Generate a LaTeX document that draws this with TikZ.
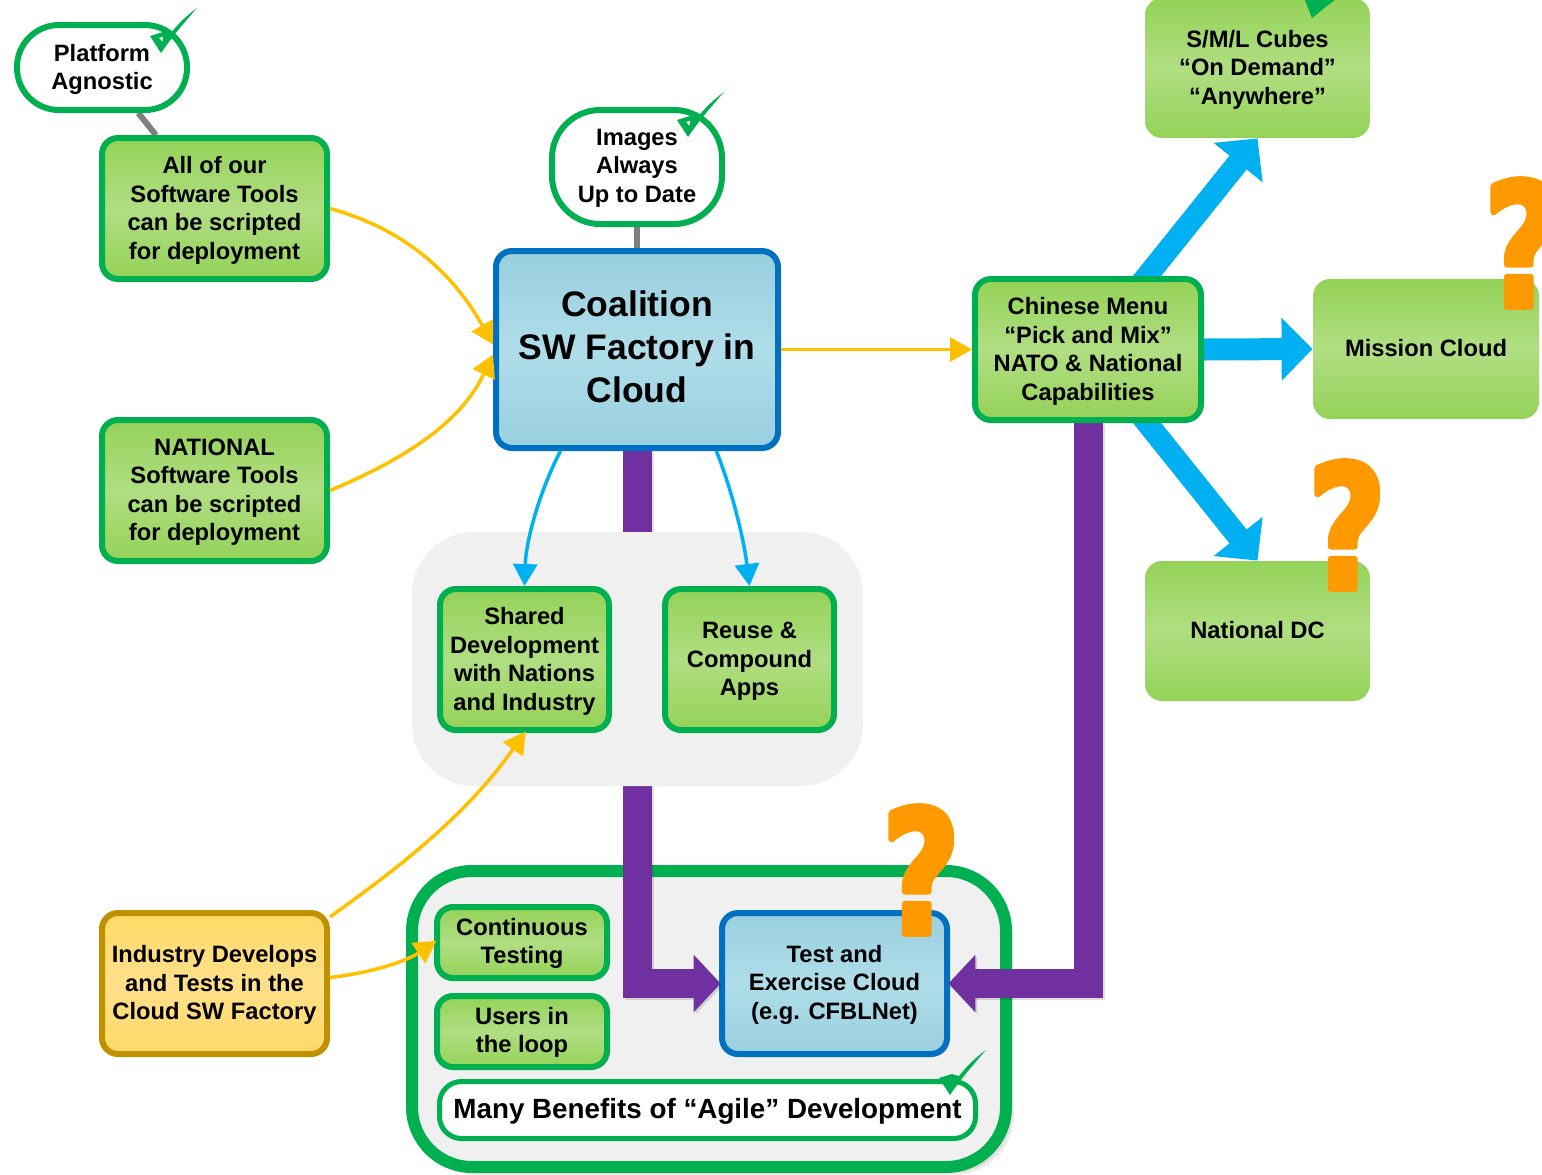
\documentclass[tikz,border=0pt]{standalone}
\usepackage{fontspec}
\setmainfont{Liberation Sans}
\newfontfamily\qfont[BoldFeatures={FakeBold=3.5,FakeStretch=0.78}]{DejaVu Sans}
\usetikzlibrary{arrows.meta,shadows,backgrounds}
\pgfdeclarelayer{bgA}\pgfdeclarelayer{bgB}\pgfdeclarelayer{bgC}\pgfdeclarelayer{fg}
\pgfsetlayers{bgA,bgB,bgC,main,fg}
\definecolor{gbord}{HTML}{00B050}
\definecolor{gtop}{HTML}{94D258}
\definecolor{gmid}{HTML}{B0DE82}
\definecolor{bbord}{HTML}{0070C0}
\definecolor{btop}{HTML}{99CFDF}
\definecolor{bmid}{HTML}{AFDDE9}
\definecolor{ybord}{HTML}{BF9000}
\definecolor{ytop}{HTML}{FFD966}
\definecolor{ymid}{HTML}{FFE08A}
\definecolor{purp}{HTML}{7030A0}
\definecolor{sky}{HTML}{00B0F0}
\definecolor{amber}{HTML}{FFC000}
\definecolor{quest}{HTML}{FF9900}
\definecolor{panelgray}{HTML}{F0F0F0}
\tikzset{
  x=0.5pt,y=-0.5pt,
  size/.style 2 args={minimum width={(#1-6)*0.5pt},minimum height={(#2-6)*0.5pt}},
  base/.style={rectangle,inner sep=0pt,align=center,text=black,text depth=0.7pt,font=\fontsize{11.85}{14.25}\selectfont\bfseries},
  greenbox/.style={base,draw=gbord,line width=3pt,rounded corners=8pt,top color=gtop,bottom color=gtop,middle color=gmid},
  plainbox/.style={base,rounded corners=8.5pt,top color=gtop,bottom color=gtop,middle color=gmid},
  bluebox/.style={base,draw=bbord,line width=3pt,rounded corners=8pt,top color=btop,bottom color=btop,middle color=bmid},
  yellowbox/.style={base,draw=ybord,line width=3pt,rounded corners=8pt,top color=ytop,bottom color=ytop,middle color=ymid},
  bubble/.style={base,draw=gbord,line width=3pt,fill=white,rounded corners=21pt},
  thinlink/.style={line width=1.75pt,-{Triangle[length=11pt,width=12pt]}},
  yellowlink/.style={thinlink,draw=amber},
  bluelink/.style={thinlink,draw=sky},
  greylink/.style={draw=black!50,line width=3pt},
  fatblue/.style={draw=sky,line width=11pt,-{Triangle[length=15.5pt,width=30.5pt]}},
  fatpurple/.style={draw=purp,line width=14.5pt,shorten >=-0.8pt,-{Triangle[length=13.5pt,width=28pt]}},
  purpshadow/.style={draw=black,opacity=.13,line width=14.5pt,shorten >=-0.8pt,-{Triangle[length=13.5pt,width=28pt]},transform canvas={xshift=1pt,yshift=-1pt}},
  qmark/.style={inner sep=0pt,text=quest,font=\fontsize{86}{86}\selectfont\qfont\bfseries},
  tick/.style={fill=gbord,draw=none,even odd rule},
}
\newcommand{\tickmark}[1]{\fill[tick,shift={(#1)}] (-11,-17) -- (2,-21) -- (9,-19) .. controls (16,-28) and (25,-37) .. (36,-45) .. controls (22,-29) and (10,-15) .. (0,0) -- cycle (-2,-15) -- (2,-16.5) -- (1.5,-11) -- cycle;}
\newcommand{\roundq}{\special{pdf:code 1 j 1 J}?}
\begin{document}
\begin{tikzpicture}
\useasboundingbox (0,0) rectangle (1542,1174);
% big container and test cloud
\begin{pgfonlayer}{bgA}
\node[base,draw=gbord,line width=6pt,fill=panelgray,rounded corners=30pt,minimum width=297pt,minimum height=148pt,
  copy shadow={draw=none,fill=black,opacity=.07,shadow xshift=1pt,shadow yshift=-1pt},
  copy shadow={draw=none,fill=black,opacity=.07,shadow xshift=2pt,shadow yshift=-2pt},
  copy shadow={draw=none,fill=black,opacity=.07,shadow xshift=3pt,shadow yshift=-3pt},
  copy shadow={draw=none,fill=black,opacity=.07,shadow xshift=4pt,shadow yshift=-4pt}] (frame) at (709,1019) {};
\node[bluebox,size={231}{147},text depth=1.5pt] (test) at (834.5,983.5) {Test and\\Exercise Cloud\\(e.g. CFBLNet)};
\end{pgfonlayer}
\begin{pgfonlayer}{bgC}
\node[rectangle,fill=black!6,rounded corners=31pt,minimum width=225.5pt,minimum height=127pt,inner sep=0pt] (panel) at (637.5,659) {};
\end{pgfonlayer}
% boxes
\node[bubble,size={176}{91}] (plat) at (102,67.5) {Platform\\Agnostic};
\node[greenbox,size={231}{147}] (all) at (214.5,208.5) {All of our\\Software Tools\\can be scripted\\for deployment};
\node[greenbox,size={231}{147}] (natl) at (214.5,490.5) {NATIONAL\\Software Tools\\can be scripted\\for deployment};
\node[bubble,size={176}{120},rounded corners=24pt,text depth=1.2pt] (img) at (637,167) {Images\\Always\\Up to Date};
\node[bluebox,size={288}{203},font=\fontsize{17.75}{21.5}\selectfont\bfseries,text depth=3pt] (coal) at (637,349.5) {Coalition\\SW Factory in\\Cloud};
\node[greenbox,size={232}{147}] (chin) at (1088,349.5) {Chinese Menu\\“Pick and Mix”\\NATO \& National\\Capabilities};
\node[plainbox,minimum width=112.5pt,minimum height=70pt] (sml) at (1257.5,68) {S/M/L Cubes\\“On Demand”\\“Anywhere”};
\node[plainbox,minimum width=113pt,minimum height=70pt,text depth=1pt] (miss) at (1426,349) {Mission Cloud};
\node[plainbox,minimum width=112.5pt,minimum height=70pt,text depth=1pt] (ndc) at (1257.5,631) {National DC};
\node[greenbox,size={175}{147}] (shared) at (524.5,659.5) {Shared\\Development\\with Nations\\and Industry};
\node[greenbox,size={175}{147}] (reuse) at (749.5,659.5) {Reuse \&\\Compound\\Apps};
\node[yellowbox,size={231}{147}] (ind) at (214.5,983.5) {Industry Develops\\and Tests in the\\Cloud SW Factory};
\node[greenbox,size={176}{77},text depth=1.5pt] (cont) at (522,942.5) {Continuous\\Testing};
\node[greenbox,size={176}{77},text depth=1.5pt] (users) at (522,1031.5) {Users in\\the loop};
\node[bubble,line width=2.5pt,minimum width=268pt,minimum height=28.5pt,rounded corners=11pt,font=\fontsize{13.9}{16.5}\selectfont\bfseries,text depth=2pt] (agile) at (707.5,1110) {Many Benefits of “Agile” Development};
% connectors beneath the boxes
\begin{pgfonlayer}{bgB}
\draw[greylink] (plat) -- (all);
\draw[greylink] (img) -- (coal);
\draw[fatblue] (chin.center) -- (sml.south);
\draw[fatblue] (chin.east) -- (miss.west);
\draw[fatblue] (chin.center) -- (ndc.north);
\draw[purpshadow] (coal.south) |- (test.west);
\draw[purpshadow] (chin.south) |- (test.east);
\draw[fatpurple] (coal.south) |- (test.west);
\draw[fatpurple] (chin.south) |- (test.east);
\end{pgfonlayer}
% connectors above the boxes
\begin{pgfonlayer}{fg}
\draw[yellowlink] (all.east) .. controls (400,228) and (450,268) .. (coal.178);
\draw[yellowlink] (natl.east) .. controls (410,457) and (462,420) .. (coal.182);
\draw[yellowlink] (coal.east |- chin.west) -- (chin.west);
\draw[yellowlink,shorten >=-1pt] (ind.30) .. controls (410,860) and (470,810) .. (shared.south);
\draw[yellowlink,shorten >=-1.5pt] (ind.3) .. controls (370,973) and (405,962) .. (cont.west);
\draw[bluelink] (coal.233.9) .. controls (540,490) and (526,540) .. (shared.north);
\draw[bluelink] (coal.-52.5) .. controls (732,490) and (744,540) .. (reuse.north);
\end{pgfonlayer}
% ticks
\tickmark{161,53}
\tickmark{688,137}
\fill[tick] (1304,-2) -- (1312,18) -- (1337,-2) -- cycle;
\tickmark{950,1095}
% question marks
\node[qmark] (q1) at (921,870) {\roundq};
\node[qmark] (q2) at (1523,243) {\roundq};
\node[qmark] (q3) at (1347,525) {\roundq};
\end{tikzpicture}
\end{document}
